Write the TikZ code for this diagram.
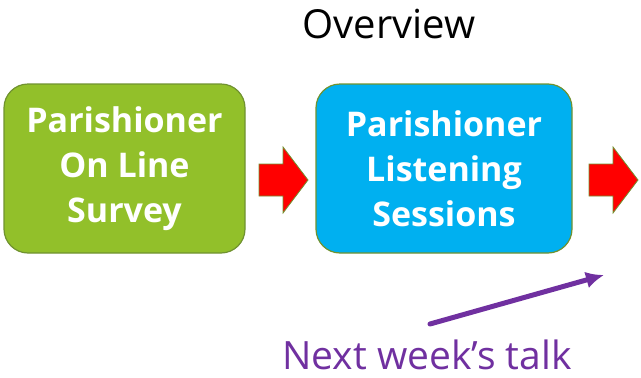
\documentclass[tikz,border=0pt]{standalone}
\usepackage{fontspec}
\setmainfont{Open Sans}
\usetikzlibrary{arrows.meta}
\definecolor{boxgreen}{RGB}{146,192,42}
\definecolor{boxblue}{RGB}{0,176,240}
\definecolor{edgegreen}{RGB}{112,146,48}
\definecolor{arrowred}{RGB}{255,0,0}
\definecolor{talkpurple}{RGB}{112,48,160}
\tikzset{
  stagebox/.style={draw=edgegreen, line width=1.2pt, rounded corners=24pt,
    minimum width=241pt, minimum height=169pt, inner sep=0pt,
    text=white, align=center, font=\fontsize{34}{45}\selectfont\bfseries},
  blockarrow/.style={fill=arrowred, draw=edgegreen, line width=0.8pt},
}
\begin{document}
\begin{tikzpicture}[x=1pt,y=-1pt]
\useasboundingbox (0,0) rectangle (641,378);
\node[font=\fontsize{40}{48}\selectfont] (title) at (389,24) {Overview};
\node[stagebox, fill=boxgreen] (survey) at (124.5,168.5) {Parishioner\\On Line\\Survey};
\node[stagebox, fill=boxblue, minimum width=256pt] (listen) at (444,168.5) {Parishioner\\Listening\\Sessions};
\draw[blockarrow] (259,164) -- (283,164) -- (283,147) -- (308,180) -- (283,213) -- (283,196) -- (259,196) -- cycle;
\draw[blockarrow] (589,164) -- (613,164) -- (613,147) -- (638,180) -- (613,213) -- (613,196) -- (589,196) -- cycle;
\node[font=\fontsize{39}{46}\selectfont, text=talkpurple, anchor=base, inner sep=0pt, text depth=0pt] (talk) at (427,369) {Next week’s talk};
\coordinate (talktip) at (604,275);
\coordinate (talkstart) at (430,324);
\draw[talkpurple, line width=5pt, line cap=round, -{Latex[length=18pt,width=17pt]}] (talkstart) -- (talktip);
\end{tikzpicture}
\end{document}
